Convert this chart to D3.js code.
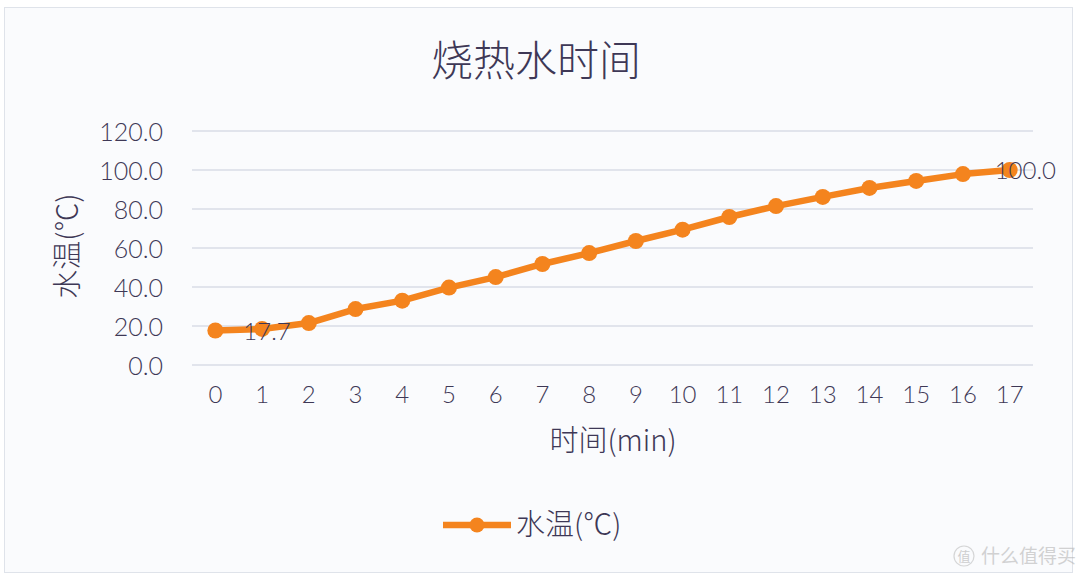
<!DOCTYPE html>
<html><head><meta charset="utf-8">
<script src="https://cdn.jsdelivr.net/npm/d3@7"></script>
<style>
html,body{margin:0;padding:0;background:#ffffff;}
svg{display:block;}
text{font-family:"Lato","Noto Sans CJK SC",sans-serif;}
</style></head>
<body><svg id="c" width="1080" height="579"></svg>
<script>
const title = "烧热水时间";
const seriesName = "水温(℃)";
const xTitle = "时间(min)";
const yTitle = "水温(℃)";
const categories = ["0","1","2","3","4","5","6","7","8","9","10","11","12","13","14","15","16","17"];
const temps = [17.7,18.5,21.5,28.7,33.0,39.7,45.1,51.8,57.4,63.6,69.4,75.9,81.5,86.2,90.8,94.4,97.9,100.0];
const yTicks = [0,20,40,60,80,100,120];
const labelIdx = [0,17];

const svg = d3.select("#c");
const txt = "#3e3856";
const orange = "#f4841e";
const cjk = "'Noto Sans CJK SC', sans-serif";
const num = "Lato, sans-serif";

// frame
svg.append("rect").attr("x",4.5).attr("y",7.5).attr("width",1068).attr("height",565)
  .attr("fill","#fafbfd").attr("stroke","#dfe3ea").attr("stroke-width",1);

const x = d3.scaleBand().domain(categories).range([192,1033]);
const y = d3.scaleLinear().domain([0,120]).range([365,131]);

// gridlines
svg.append("g").selectAll("line").data(yTicks).join("line")
  .attr("x1",192).attr("x2",1033)
  .attr("y1",d=>y(d)).attr("y2",d=>y(d))
  .attr("stroke","#d9dde6").attr("stroke-width",1.3);

// y axis labels
const yAxis = d3.axisLeft(y).tickValues(yTicks).tickFormat(d3.format(".1f")).tickSize(0).tickPadding(0);
const gy = svg.append("g").attr("transform","translate(163,1)").call(yAxis);
gy.select(".domain").remove();
gy.selectAll("text").attr("fill",txt).style("font-size","25px").style("font-weight","300").style("font-family",num);

// x axis labels
const xAxis = d3.axisBottom(x).tickSize(0).tickPadding(0);
const gx = svg.append("g").attr("transform","translate(0,386)").call(xAxis);
gx.select(".domain").remove();
gx.selectAll("text").attr("fill",txt).style("font-size","24px").style("font-weight","300").style("font-family",num);

// title
svg.append("text").attr("x",536).attr("y",76).attr("text-anchor","middle")
  .attr("fill",txt).style("font-size","42px").style("font-weight","300").style("font-family",cjk).text(title);

// axis titles
svg.append("text").attr("x",613).attr("y",451).attr("text-anchor","middle")
  .attr("fill",txt).style("font-size","29px").style("font-weight","300").style("font-family",cjk).text(xTitle);
svg.append("text").attr("transform","translate(78,246) rotate(-90)").attr("text-anchor","middle")
  .attr("fill",txt).style("font-size","29px").style("font-weight","300").style("font-family",cjk).text(yTitle);

// line
const cx = (d,i)=> x(categories[i]) + x.bandwidth()/2;
const line = d3.line().x((d,i)=>cx(d,i)).y(d=>y(d));
svg.append("path").datum(temps).attr("d",line).attr("fill","none")
  .attr("stroke",orange).attr("stroke-width",6.5).attr("stroke-linejoin","round");
svg.append("g").selectAll("circle").data(temps).join("circle")
  .attr("cx",(d,i)=>cx(d,i)).attr("cy",d=>y(d)).attr("r",8).attr("fill",orange);

// data labels
const labelDx = {0:28, 17:-15};
svg.append("g").selectAll("text").data(labelIdx).join("text")
  .attr("x",i=>cx(temps[i],i)+labelDx[i]).attr("y",i=>y(temps[i])+(i===0?10:9))
  .attr("fill",txt).style("font-size","24px").style("font-weight","300").style("font-family",num)
  .text(i=>d3.format(".1f")(temps[i]));

// legend
const lg = svg.append("g");
lg.append("line").attr("x1",443).attr("x2",511).attr("y1",525).attr("y2",525)
  .attr("stroke",orange).attr("stroke-width",6.5);
lg.append("circle").attr("cx",477).attr("cy",525).attr("r",7.5).attr("fill",orange);
lg.append("text").attr("x",516).attr("y",535).attr("fill",txt)
  .style("font-size","29px").style("font-weight","300").style("font-family",cjk).text(seriesName);

// watermark
const wm = svg.append("g").attr("opacity",0.55);
wm.append("circle").attr("cx",964).attr("cy",556).attr("r",10).attr("fill","none").attr("stroke","#b8b8b8").attr("stroke-width",1.2);
wm.append("text").attr("x",964).attr("y",561).attr("text-anchor","middle").attr("fill","#aaaaaa")
  .style("font-size","13px").style("font-family",cjk).text("值");
wm.append("text").attr("x",981).attr("y",563).attr("fill","#b0b0b0")
  .style("font-size","19px").style("font-family",cjk).text("什么值得买");
</script></body></html>
